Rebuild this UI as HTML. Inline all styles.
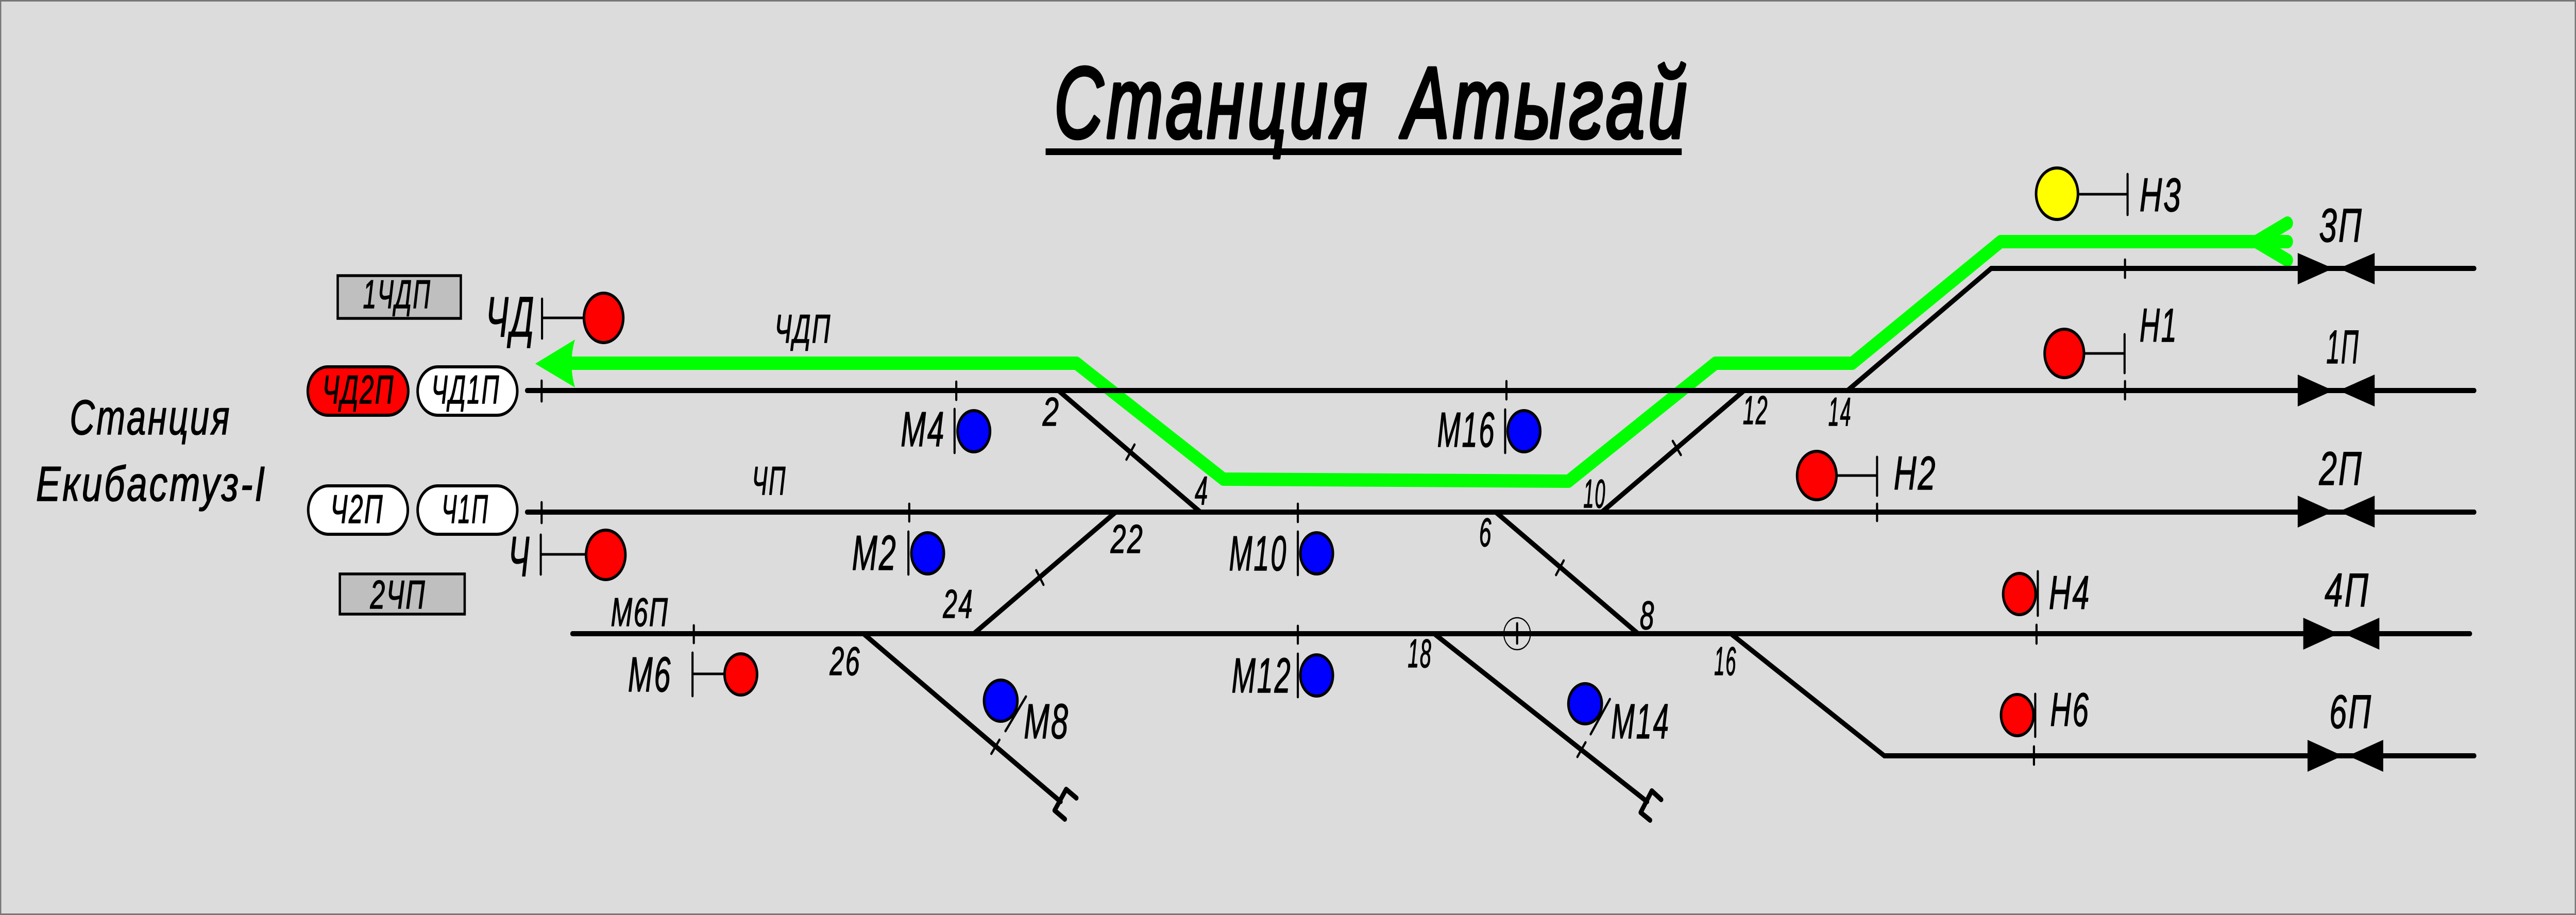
<!DOCTYPE html>
<html lang="ru"><head><meta charset="utf-8"><title>Станция Атыгай</title>
<style>
html,body{margin:0;padding:0;background:#dcdcdc;width:100vw;height:100vh;overflow:hidden}
svg{display:block;width:100vw;height:100vh}
text{font-family:"Liberation Sans Narrow","Liberation Sans","DejaVu Sans",sans-serif;font-style:italic;fill:#000;stroke:#000;stroke-width:1.5;stroke-linejoin:round;letter-spacing:.05em}
.s{font-size:78px}.m{font-size:96px}.l{font-size:110px}.h{font-size:92px}
.t{font-size:196px;stroke-width:7px}
.tr{stroke:#000;stroke-width:10;fill:none;stroke-linecap:round;stroke-linejoin:round}
.th{stroke:#000;stroke-width:5;fill:none;stroke-linecap:round}
.gr{stroke:#00ff00;stroke-width:26;fill:none;stroke-linecap:round;stroke-linejoin:round}
.sig{stroke:#000;stroke-width:6}
.bt{fill:#000}
</style></head><body>
<svg xmlns="http://www.w3.org/2000/svg" viewBox="0 0 6026 1776" preserveAspectRatio="none">
<rect x="1.5" y="1.5" width="6023" height="1773" fill="#dcdcdc" stroke="#777" stroke-width="3"/>

<!-- title -->
<text class="t" x="2466" y="267" textLength="740" lengthAdjust="spacingAndGlyphs">Станция</text>
<text class="t" x="3282" y="267" textLength="672" lengthAdjust="spacingAndGlyphs">Атыгай</text>
<rect x="2446" y="288" width="1488" height="13" fill="#000"/>

<!-- route -->
<polyline class="gr" points="1335,705 2518,705 2862,930 3669,934 4013,705 4333,705 4680,469 5278,469"/>
<path class="gr" d="M5351,433 L5278,469 L5351,505 M5278,469 L5351,469"/>
<path d="M1252,706 L1345,659 Q1329,705 1345,752 Z" fill="#00ff00"/>

<!-- tracks -->
<path class="tr" d="M1233,758H5788M1233,994H5788M1339,1230H5778M4658,521H5788M4408,1467H5788"/>
<path class="tr" d="M4322,758L4658,521M4049,1230L4408,1467M2476,758L2808,994M2610,994L2278,1230M2020,1230L2481,1556M3499,994L3832,1230M3747,994L4080,758M3355,1230L3853,1556"/>
<polyline class="tr" points="2491,1590 2467,1573 2494,1532 2518,1549"/>
<polyline class="tr" points="3860,1592 3838,1577 3864,1535 3886,1552"/>

<!-- ticks -->
<path class="th" d="M1267,739V779M1267,975V1015M1623,1214V1248M2127,978V1012M2237,741V776M3036,978V1013M3036,1215V1249M3524,740V775M3549,1210V1249M4971,504V539M4971,740V775M4391,978V1011M4764,1213V1249M4758,1449V1484M2424,1107L2441,1135M2319,1463L2338,1436M2635,892L2654,863M3640,1116L3658,1088M3913,856L3932,883M3690,1469L3709,1441"/>
<circle cx="3549" cy="1230" r="31" fill="none" stroke="#000" stroke-width="2.5"/>

<!-- bow ties -->
<polygon class="bt" points="5375,491 5458,521 5471,521 5555,491 5555,552 5471,521 5458,521 5375,552"/>
<polygon class="bt" points="5375,727 5458,758 5471,758 5555,727 5555,789 5471,758 5458,758 5375,789"/>
<polygon class="bt" points="5375,962 5458,993 5471,993 5555,962 5555,1024 5471,993 5458,993 5375,1024"/>
<polygon class="bt" points="5388,1199 5470,1230 5483,1230 5566,1199 5566,1261 5483,1230 5470,1230 5388,1261"/>
<polygon class="bt" points="5398,1436 5480,1467 5493,1467 5575,1436 5575,1498 5493,1467 5480,1467 5398,1498"/>

<!-- signal posts -->
<path class="th" d="M1268,580V657M1268,617H1364M1265,1038V1115M1265,1076H1368M1620,1267V1351M1620,1308H1692M2125,1032V1115M2233,794V879M2400,1352L2352,1419M3036,1032V1116M3036,1269V1353M3521,795V879M3766,1357L3721,1425M4977,338V417M4865,377H4977M4970,649V724M4878,686H4970M4391,887V962M4298,923H4391M4767,1109V1195M4761,1347V1430"/>

<!-- signal heads -->
<g class="sig">
<ellipse cx="1412" cy="617" rx="46" ry="48" fill="#ff0000"/>
<ellipse cx="1417" cy="1077" rx="46" ry="48" fill="#ff0000"/>
<ellipse cx="1733" cy="1309" rx="38" ry="40" fill="#ff0000"/>
<ellipse cx="2170" cy="1074" rx="38" ry="40" fill="#0000ff"/>
<ellipse cx="2278" cy="837" rx="38" ry="40" fill="#0000ff"/>
<ellipse cx="2341" cy="1360" rx="39" ry="40" fill="#0000ff"/>
<ellipse cx="3080" cy="1074" rx="38" ry="40" fill="#0000ff"/>
<ellipse cx="3080" cy="1311" rx="38" ry="40" fill="#0000ff"/>
<ellipse cx="3565" cy="837" rx="38" ry="40" fill="#0000ff"/>
<ellipse cx="3708" cy="1366" rx="39" ry="39" fill="#0000ff"/>
<ellipse cx="4812" cy="376" rx="49" ry="50" fill="#ffff00"/>
<ellipse cx="4829" cy="686" rx="46" ry="47" fill="#ff0000"/>
<ellipse cx="4250" cy="923" rx="46" ry="47" fill="#ff0000"/>
<ellipse cx="4724" cy="1153" rx="38" ry="40" fill="#ff0000"/>
<ellipse cx="4719" cy="1388" rx="38" ry="40" fill="#ff0000"/>
</g>

<!-- boxes -->
<rect x="790" y="535" width="288" height="83" fill="#bfbfbf" stroke="#000" stroke-width="5.5"/>
<rect x="795" y="1114" width="292" height="78" fill="#bfbfbf" stroke="#000" stroke-width="5.5"/>
<rect x="720" y="712" width="235" height="94" rx="47" ry="47" fill="#ff0000" stroke="#000" stroke-width="6"/>
<rect x="977" y="712" width="233" height="94" rx="47" ry="47" fill="#fff" stroke="#000" stroke-width="6"/>
<rect x="721" y="943" width="233" height="94" rx="47" ry="47" fill="#fff" stroke="#000" stroke-width="6"/>
<rect x="977" y="943" width="233" height="94" rx="47" ry="47" fill="#fff" stroke="#000" stroke-width="6"/>

<!-- labels -->
<text class="s" x="849" y="598" textLength="160" lengthAdjust="spacingAndGlyphs">1ЧДП</text>
<text class="s" x="866" y="1181" textLength="131" lengthAdjust="spacingAndGlyphs">2ЧП</text>
<text class="s" x="754" y="783" textLength="169" lengthAdjust="spacingAndGlyphs">ЧД2П</text>
<text class="s" x="1009" y="783" textLength="161" lengthAdjust="spacingAndGlyphs">ЧД1П</text>
<text class="s" x="773" y="1015" textLength="125" lengthAdjust="spacingAndGlyphs">Ч2П</text>
<text class="s" x="1033" y="1015" textLength="111" lengthAdjust="spacingAndGlyphs">Ч1П</text>
<text class="l" x="1136" y="653" textLength="117" lengthAdjust="spacingAndGlyphs">ЧД</text>
<text class="l" x="1189" y="1118" textLength="53" lengthAdjust="spacingAndGlyphs">Ч</text>
<text class="m" x="163" y="843" textLength="378" lengthAdjust="spacingAndGlyphs">Станция</text>
<text class="m" x="84" y="972" textLength="540" lengthAdjust="spacingAndGlyphs">Екибастуз-I</text>

<text class="s" x="1812" y="665" textLength="133" lengthAdjust="spacingAndGlyphs">ЧДП</text>
<text class="s" x="1759" y="960" textLength="81" lengthAdjust="spacingAndGlyphs">ЧП</text>
<text class="s" x="1429" y="1215" textLength="136" lengthAdjust="spacingAndGlyphs">М6П</text>

<text class="m" x="1469" y="1342" textLength="103" lengthAdjust="spacingAndGlyphs">М6</text>
<text class="m" x="1993" y="1106" textLength="106" lengthAdjust="spacingAndGlyphs">М2</text>
<text class="m" x="2107" y="866" textLength="105" lengthAdjust="spacingAndGlyphs">М4</text>
<text class="m" x="2395" y="1433" textLength="107" lengthAdjust="spacingAndGlyphs">М8</text>
<text class="m" x="2875" y="1107" textLength="137" lengthAdjust="spacingAndGlyphs">М10</text>
<text class="m" x="2881" y="1344" textLength="141" lengthAdjust="spacingAndGlyphs">М12</text>
<text class="m" x="3362" y="867" textLength="137" lengthAdjust="spacingAndGlyphs">М16</text>
<text class="m" x="3769" y="1433" textLength="138" lengthAdjust="spacingAndGlyphs">М14</text>

<text class="s" x="2439" y="826" textLength="41" lengthAdjust="spacingAndGlyphs">2</text>
<text class="s" x="2795" y="979" textLength="33" lengthAdjust="spacingAndGlyphs">4</text>
<text class="s" x="3460" y="1060" textLength="31" lengthAdjust="spacingAndGlyphs">6</text>
<text class="s" x="3836" y="1221" textLength="36" lengthAdjust="spacingAndGlyphs">8</text>
<text class="s" x="3704" y="985" textLength="53" lengthAdjust="spacingAndGlyphs">10</text>
<text class="s" x="4077" y="823" textLength="60" lengthAdjust="spacingAndGlyphs">12</text>
<text class="s" x="4277" y="826" textLength="55" lengthAdjust="spacingAndGlyphs">14</text>
<text class="s" x="4010" y="1310" textLength="53" lengthAdjust="spacingAndGlyphs">16</text>
<text class="s" x="3293" y="1295" textLength="57" lengthAdjust="spacingAndGlyphs">18</text>
<text class="s" x="2598" y="1073" textLength="78" lengthAdjust="spacingAndGlyphs">22</text>
<text class="s" x="2206" y="1199" textLength="72" lengthAdjust="spacingAndGlyphs">24</text>
<text class="s" x="1941" y="1310" textLength="73" lengthAdjust="spacingAndGlyphs">26</text>

<text class="h" x="5005" y="410" textLength="100" lengthAdjust="spacingAndGlyphs">Н3</text>
<text class="h" x="5005" y="663" textLength="90" lengthAdjust="spacingAndGlyphs">Н1</text>
<text class="h" x="4430" y="950" textLength="101" lengthAdjust="spacingAndGlyphs">Н2</text>
<text class="h" x="4793" y="1182" textLength="98" lengthAdjust="spacingAndGlyphs">Н4</text>
<text class="h" x="4796" y="1409" textLength="93" lengthAdjust="spacingAndGlyphs">Н6</text>

<text class="h" x="5425" y="469" textLength="103" lengthAdjust="spacingAndGlyphs">3П</text>
<text class="h" x="5442" y="705" textLength="78" lengthAdjust="spacingAndGlyphs">1П</text>
<text class="h" x="5425" y="941" textLength="103" lengthAdjust="spacingAndGlyphs">2П</text>
<text class="h" x="5438" y="1177" textLength="106" lengthAdjust="spacingAndGlyphs">4П</text>
<text class="h" x="5449" y="1413" textLength="101" lengthAdjust="spacingAndGlyphs">6П</text>
</svg>
</body></html>
